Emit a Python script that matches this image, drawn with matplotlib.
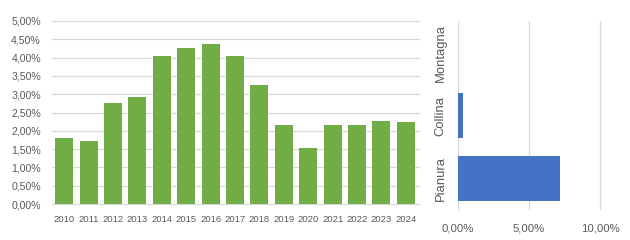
import matplotlib
matplotlib.use("Agg")
import matplotlib.pyplot as plt
from matplotlib.ticker import FuncFormatter, MultipleLocator

years = [str(y) for y in range(2010, 2025)]
year_values = [1.80, 1.72, 2.76, 2.92, 4.04, 4.26, 4.37, 4.04, 3.25, 2.16, 1.53, 2.16, 2.16, 2.27, 2.24]

zones = ["Pianura", "Collina", "Montagna"]
zone_values = [7.16, 0.37, 0.0]

GREEN = "#70AD47"
BLUE = "#4472C4"
GRID = "#D9D9D9"
TEXT = "#595959"

plt.rcParams["font.family"] = ["Liberation Sans", "DejaVu Sans"]


def pct(v, pos):
    return f"{v:.2f}%".replace(".", ",")


fig = plt.figure(figsize=(6.3, 2.4), dpi=100)

# left: yearly bars
ax1 = fig.add_axes([52 / 630, 36 / 240, 368 / 630, 183 / 240])
ax1.bar(range(len(years)), year_values, width=0.74, color=GREEN, zorder=3)
ax1.set_xlim(-0.5, len(years) - 0.5 + 0.08)
ax1.set_ylim(0, 5)
ax1.yaxis.set_major_locator(MultipleLocator(0.5))
ax1.yaxis.set_major_formatter(FuncFormatter(pct))
ax1.set_xticks(range(len(years)))
ax1.set_xticklabels(years)
ax1.grid(axis="y", color=GRID, linewidth=0.9, zorder=0)
for s in ["top", "right", "left"]:
    ax1.spines[s].set_visible(False)
ax1.spines["bottom"].set_color(GRID)
ax1.tick_params(axis="y", length=0, labelsize=7.6, labelcolor=TEXT, pad=8)
ax1.tick_params(axis="x", length=0, labelsize=6.8, labelcolor=TEXT, pad=8)

# right: zone bars
ax2 = fig.add_axes([457.7 / 630, 30 / 240, 171 / 630, 189 / 240])
ax2.barh(range(len(zones)), zone_values, height=0.72, color=BLUE, zorder=3)
ax2.set_ylim(-0.5, len(zones) - 0.5)
ax2.set_xlim(0, 12)
ax2.set_xticks([0, 5, 10])
ax2.xaxis.set_major_formatter(FuncFormatter(pct))
ax2.set_yticks(range(len(zones)))
ax2.set_yticklabels(zones, rotation=90, va="center")
ax2.grid(axis="x", color=GRID, linewidth=0.9, zorder=0)
for s in ["top", "right", "bottom"]:
    ax2.spines[s].set_visible(False)
ax2.spines["left"].set_color(GRID)
ax2.tick_params(axis="x", length=0, labelsize=8.2, labelcolor=TEXT, pad=10)
ax2.tick_params(axis="y", length=0, labelsize=9.4, labelcolor=TEXT, pad=8)

fig.savefig("out.png", dpi=100)
